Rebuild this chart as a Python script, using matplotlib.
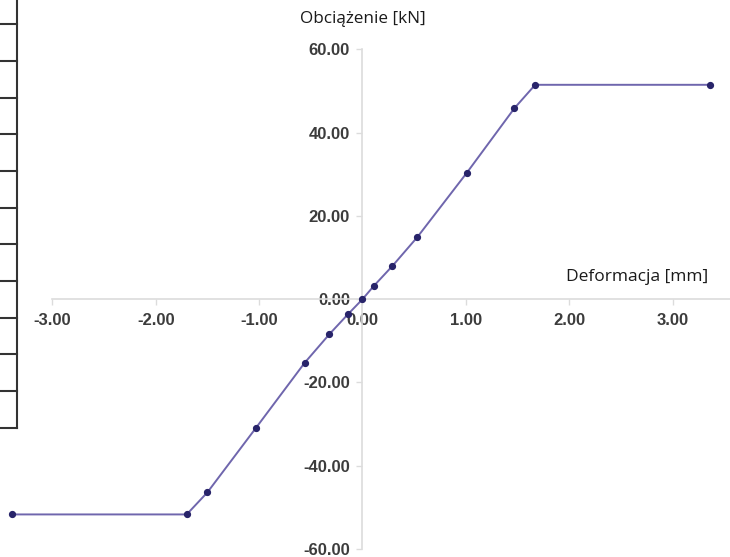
import numpy as np
import matplotlib.pyplot as plt
from matplotlib.ticker import FormatStrFormatter
from matplotlib.lines import Line2D
from matplotlib import font_manager

plt.rcParams['font.family'] = ['Liberation Sans', 'DejaVu Sans']

# deformation [mm] and load [kN]
deform = [-3.39, -1.70, -1.50, -1.03, -0.56, -0.32, -0.14, 0.00,
          0.11, 0.29, 0.53, 1.01, 1.47, 1.67, 3.36]
load = [-51.7, -51.7, -46.4, -30.9, -15.3, -8.4, -3.6, 0.0,
        3.2, 8.0, 14.9, 30.4, 45.9, 51.5, 51.5]

x_ticks = [-3, -2, -1, 0, 1, 2, 3]
y_ticks = [-60, -40, -20, 0, 20, 40, 60]

fig = plt.figure(figsize=(7.3, 5.57), dpi=100)
ax = fig.add_axes([0, 0, 1, 1])
ax.patch.set_alpha(0)

ax.plot(deform, load, color='#6f66ad', lw=1.4, zorder=2)
ax.plot(deform, load, ls='none', marker='o', ms=4.2, color='#28246a', zorder=3)

# pixel mapping: x0=362.5px, 103.4px/mm; y0=299.2px, 4.163px/kN
ax.set_xlim(-362.5 / 103.4, (730 - 362.5) / 103.4)
ax.set_ylim(-(557 - 299.2) / 4.163, 299.2 / 4.163)

for s in ['top', 'right']:
    ax.spines[s].set_visible(False)
ax.spines['left'].set_position(('data', 0))
ax.spines['bottom'].set_position(('data', 0))
ax.spines['left'].set_bounds(-60, 60)
ax.spines['bottom'].set_bounds(-3, (730 - 362.5) / 103.4)
for s in ['left', 'bottom']:
    ax.spines[s].set_color('#dcdcdc')
    ax.spines[s].set_linewidth(1.2)

# bold Arial-like face for the numbers; pick the file by hand so the narrow cut is skipped
bold_file = None
for f in font_manager.fontManager.ttflist:
    if f.name == 'Liberation Sans' and f.weight == 700 and f.style == 'normal':
        bold_file = f.fname
if bold_file is None:
    bold_file = font_manager.findfont(font_manager.FontProperties(family='Liberation Sans'))
tick_font = font_manager.FontProperties(fname=bold_file, size=12)

ax.set_xticks(x_ticks)
ax.set_yticks(y_ticks)
ax.xaxis.set_major_formatter(FormatStrFormatter('%.2f'))
ax.yaxis.set_major_formatter(FormatStrFormatter('%.2f'))
ax.tick_params(axis='both', direction='out', length=4, width=1, color='#dcdcdc',
               labelcolor='#3c3c3c')
ax.tick_params(axis='x', pad=6)
ax.tick_params(axis='y', pad=5)
for lab in ax.get_xticklabels() + ax.get_yticklabels():
    lab.set_fontproperties(tick_font)

ax.text(0, 67.3, 'Obciążenie [kN]', ha='center', va='center',
        family='Open Sans', fontsize=12.3, color='#1a1a1a')
ax.text(3.34, 5.3, 'Deformacja [mm]', ha='right', va='center',
        family='Open Sans', fontsize=12.5, color='#1a1a1a')

# fragment of the table frame at the left edge
fig.add_artist(Line2D([17.3 / 730, 17.3 / 730], [1, 1 - 428 / 557],
                      transform=fig.transFigure, color='#333333', lw=1.5))
for yp in [24, 61, 97.7, 134, 171, 207.7, 244.3, 281, 317.7, 354.3, 391, 427.7]:
    fig.add_artist(Line2D([0, 17.3 / 730], [1 - yp / 557, 1 - yp / 557],
                          transform=fig.transFigure, color='#333333', lw=1.5))

fig.savefig('out.png', dpi=100)
